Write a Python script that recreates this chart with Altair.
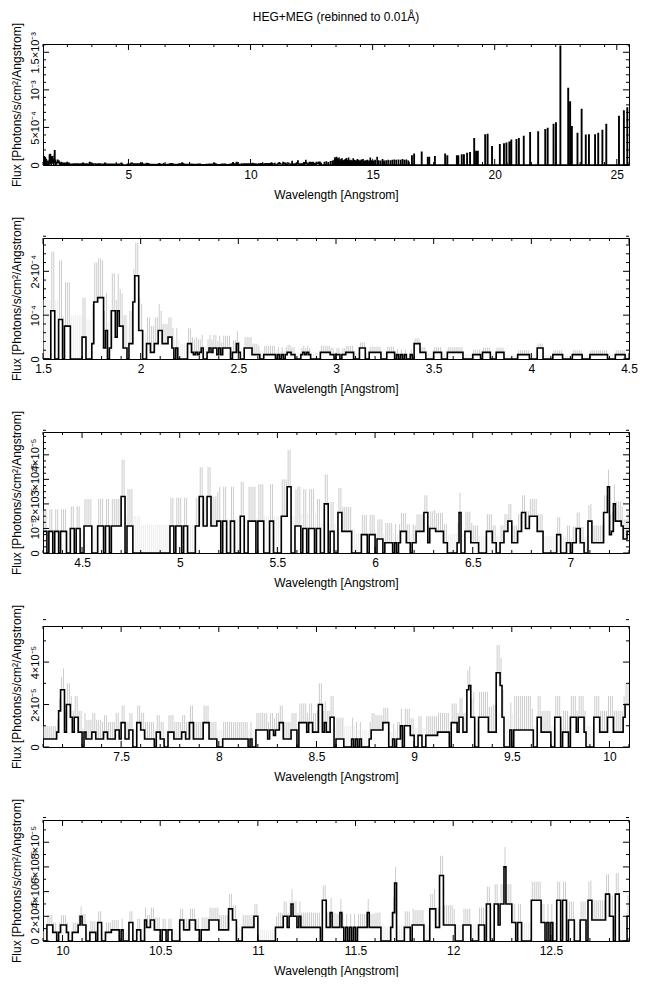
import altair as alt
import numpy as np
import pandas as pd

# ---------------------------------------------------------------- data
BIN = 0.01  # Angstrom per bin

# Panel 2: 1.5 - 4.5 A, one character per 0.01 A bin, level table in 1e-4
P2_START, P2_UNIT = 1.50, 1e-4
P2_LEVELS = [0, 0.10, 0.15, 0.25, 0.35, 0.50, 0.65, 0.75, 0.90, 1.10, 1.30, 1.40, 1.90]
P2_BINS = ("0000990088 0777000000 550004aabb b360399597 733044acc6 "
           "6004422446 6444553030 0000442121 2300232331 3133330224 "
           "2003333111 1001111110 1010122110 0012121000 0022222110 "
           "1101122220 0033300222 2220002222 0101010010 4442220000 "
           "2222000222 2222200000 1111022220 0022220000 0001111110 "
           "0003330000 0111110000 0111110000 1111111110 0001111100")
P2_ERR = [1.35, 1.0, 0.9, 0.85, 0.75, 0.6, 0.45, 0.35, 0.3, 0.28,
          0.25, 0.2, 0.17, 0.15, 0.15, 0.15, 0.13, 0.13, 0.12, 0.12,
          0.12, 0.12, 0.11, 0.11, 0.1, 0.1, 0.1, 0.1, 0.1, 0.1]

# Panel 3: 4.3 - 7.3 A, level table in 1e-5
P3_START, P3_UNIT = 4.30, 1e-5
P3_LEVELS = [0, 0.42, 0.57, 0.75, 0.88, 1.0, 1.1, 1.3, 1.5, 1.65, 2.0, 2.3, 2.7]
P3_BINS = ("4404404404 4400550550 0666600066 6066066666 bb06660000 "
           "0000000000 0000066066 6066000066 bb66bb6667 7077007700 "
           "0880077770 7770007700 00888cc006 6605505550 5500aa0440 "
           "0994444400 0003330333 0222011110 1014441101 1444499155 "
           "5444411000 0019004441 1110000444 1100114477 1114499558 "
           "8884440000 0003300011 0115511007 711111199c 34a7776224")
P3_ERR = [0.9, 0.9, 1.1, 1.1, 1.5, 1.15, 1.15, 1.15, 1.2, 1.4,
          1.4, 1.5, 1.5, 1.6, 1.2, 1.0, 0.8, 0.8, 0.75, 0.7,
          0.75, 0.8, 0.7, 0.7, 0.7, 0.7, 0.7, 0.65, 0.7, 0.8]

# Panel 4: 7.1 - 10.1 A, level table in 1e-5
P4_START, P4_UNIT = 7.10, 1e-5
P4_LEVELS = [0, 0.38, 0.55, 0.7, 0.8, 1.0, 1.15, 1.4, 1.7, 2.0, 2.7, 2.9, 3.5]
P4_BINS = ("111111138a a399737733 0311133111 1331111441 6611440066 "
           "4411111033 1100333111 1331166111 1166611110 0011111111 "
           "1111101004 4444414424 4661111444 0666636633 3993633770 "
           "1111000010 1010000144 4444666001 0115055522 0022002222 "
           "2233333306 6637733ab7 7007777733 33ccb70004 0444444444 "
           "4007733333 0077703330 7773777300 0077733337 7733333799")
P4_ERR = [0.6, 1.0, 0.9, 0.8, 0.8, 0.8, 0.8, 0.8, 0.8, 0.8,
          0.8, 0.8, 0.8, 0.9, 1.0, 1.0, 0.8, 0.7, 0.8, 0.9,
          0.9, 0.9, 1.2, 1.3, 1.6, 1.0, 1.0, 1.0, 1.0, 1.0]

# Panel 5: 9.9 - 12.9 A, level table in 1e-5
P5_START, P5_UNIT = 9.90, 1e-5
P5_LEVELS = [0, 0.7, 0.9, 1.1, 1.3, 1.5, 1.7, 2.0, 2.3, 2.6, 3.0, 3.3, 3.8, 4.7, 5.3, 6.0]
P5_BINS = ("0044411014 4410011147 4400111055 0011122220 2000550022 "
           "0063366222 0220220000 6622266622 0222266666 2222299660 "
           "0033333377 0000000003 3337737a77 3733333333 330bb33833 "
           "3383030303 0333338333 3330000038 d000033304 4444400099 "
           "933ee44444 4000044440 0004440aa0 0aa4aafaaa 5505500000 "
           "bbbbb55050 500bb0bb06 660006660b b6666666cc 770cc00007")
P5_ERR = [0.8, 0.8, 0.9, 0.8, 0.9, 1.0, 0.9, 0.9, 1.0, 1.2,
          1.0, 0.9, 1.2, 1.2, 1.2, 1.1, 1.1, 1.2, 1.3, 1.2,
          1.6, 1.3, 1.4, 1.6, 1.5, 1.5, 1.5, 1.5, 1.6, 1.7]

# Panel 1 long-wavelength part (12.9 - 25.5 A): non-zero bins, flux in 1e-4
TAIL_LAM = [13.02, 13.10, 13.18, 13.27, 13.35, 13.42, 13.45, 13.48, 13.52, 13.55,
            13.58, 13.62, 13.66, 13.70, 13.74, 13.78, 13.83, 13.88, 13.92, 13.97,
            14.01, 14.05, 14.10, 14.15, 14.20, 14.25, 14.31, 14.37, 14.42, 14.48,
            14.53, 14.60, 14.66, 14.72, 14.78, 14.85, 14.90, 14.96, 15.03, 15.10,
            15.18, 15.24, 15.32, 15.40, 15.47, 15.55, 15.63, 15.72, 15.80, 15.88,
            15.96, 16.05, 16.14, 16.22, 16.30, 16.38, 16.46,
            16.60, 16.69, 17.00, 17.25, 17.32, 17.54, 17.96, 18.05, 18.44, 18.50,
            18.64, 18.73, 18.86, 18.98, 19.15, 19.23, 19.30, 19.60, 19.70, 19.88,
            20.20, 20.37, 20.47, 20.59, 20.67, 20.88, 20.98, 21.18, 21.44, 21.77,
            22.06, 22.16, 22.40, 22.50, 22.68, 23.00, 23.08, 23.15, 23.38, 23.55,
            23.72, 23.85, 24.10, 24.23, 24.40, 24.56, 25.08, 25.28, 25.42]
TAIL_FLUX = [0.35, 0.4, 0.3, 0.45, 0.5, 0.6, 0.95, 0.7, 1.0, 0.8,
             0.6, 0.9, 0.5, 0.75, 0.8, 0.55, 0.6, 0.7, 0.85, 0.6,
             0.9, 0.55, 0.6, 0.5, 0.8, 0.6, 0.55, 0.7, 0.6, 0.5,
             0.65, 0.7, 0.5, 0.55, 0.6, 0.5, 0.9, 0.55, 0.5, 0.6,
             1.0, 0.55, 0.5, 0.7, 0.5, 0.55, 0.6, 0.55, 0.6, 0.65,
             0.6, 0.65, 0.6, 0.7, 0.6, 0.65, 0.5,
             1.2, 1.45, 1.7, 1.0, 1.0, 1.1, 1.45, 1.2, 1.2, 1.2,
             1.35, 1.35, 1.55, 1.65, 3.5, 1.8, 1.8, 4.0, 4.05, 2.45,
             2.7, 2.8, 2.9, 3.05, 3.3, 3.35, 3.5, 3.8, 4.3, 4.4,
             4.7, 4.85, 5.4, 5.6, 15.8, 10.2, 8.4, 5.1, 4.2, 7.4,
             3.95, 4.0, 4.0, 4.2, 4.6, 5.4, 6.45, 7.2, 7.6]

# axis ticks / labels
P1_XMAJ = [5, 10, 15, 20, 25]
P1_YMAJ = [0, 5e-4, 1e-3, 1.5e-3]
P1_YLAB = ["0", "5×10⁻⁴", "10⁻³", "1.5×10⁻³"]
P2_XMAJ = [1.5, 2, 2.5, 3, 3.5, 4, 4.5]
P2_YMAJ = [0, 1e-4, 2e-4]
P2_YLAB = ["0", "10⁻⁴", "2×10⁻⁴"]
P3_XMAJ = [4.5, 5, 5.5, 6, 6.5, 7]
P3_YMAJ = [0, 1e-5, 2e-5, 3e-5, 4e-5]
P3_YLAB = ["0", "10⁻⁵", "2×10⁻⁵", "3×10⁻⁵", "4×10⁻⁵"]
P4_XMAJ = [7.5, 8, 8.5, 9, 9.5, 10]
P4_YMAJ = [0, 2e-5, 4e-5]
P4_YLAB = ["0", "2×10⁻⁵", "4×10⁻⁵"]
P5_XMAJ = [10, 10.5, 11, 11.5, 12, 12.5]
P5_YMAJ = [0, 2e-5, 4e-5, 6e-5, 8e-5]
P5_YLAB = ["0", "2×10⁻⁵", "4×10⁻⁵", "6×10⁻⁵", "8×10⁻⁵"]

# ---------------------------------------------------------------- build tables
W, H = 586, 121
XTITLE = "Wavelength [Angstrom]"
YTITLE = "Flux [Photons/s/cm²/Angstrom]"


def expand(bins, x0, levels, unit, err):
    s = bins.replace(" ", "")
    assert len(s) == 300, len(s)
    lam = np.round(x0 + np.arange(len(s)) * BIN, 4)
    flux = np.array([levels[int(c, 16)] for c in s]) * unit
    ext = np.array([err[i // 10] for i in range(len(s))]) * unit
    lo = np.where(flux > 0, flux, 0.0)
    hi = np.where(flux > 0, flux + ext, ext)
    kind = np.where(flux > 0, "det", "zero")
    line = pd.DataFrame({"lam": np.append(lam, round(x0 + len(s) * BIN, 4)),
                         "flux": np.append(flux, flux[-1])})
    errdf = pd.DataFrame({"lam": lam + BIN / 2, "lo": lo, "hi": hi, "kind": kind})
    return lam, flux, line, errdf


l2, f2, line2, err2 = expand(P2_BINS, P2_START, P2_LEVELS, P2_UNIT, P2_ERR)
l3, f3, line3, err3 = expand(P3_BINS, P3_START, P3_LEVELS, P3_UNIT, P3_ERR)
l4, f4, line4, err4 = expand(P4_BINS, P4_START, P4_LEVELS, P4_UNIT, P4_ERR)
l5, f5, line5, err5 = expand(P5_BINS, P5_START, P5_LEVELS, P5_UNIT, P5_ERR)

# full-range spectrum for panel 1
N1 = 2400
grid = np.round(1.5 + np.arange(N1) * BIN, 4)
full = np.zeros(N1)


def put(lam, flux, lo, hi):
    for l, f in zip(lam, flux):
        if lo - 1e-9 <= l < hi - 1e-9:
            full[int(round((l - 1.5) / BIN))] = f


put(l2, f2, 1.5, 4.5)
put(l3, f3, 4.5, 7.3)
put(l4, f4, 7.3, 10.1)
put(l5, f5, 10.1, 12.9)
for l, f in zip(TAIL_LAM, TAIL_FLUX):
    k = int(round((l - 1.5) / BIN))
    full[k] = f * 1e-4
    if f >= 1.1 and k + 1 < N1:   # the stronger lines span two bins
        full[k + 1] = f * 1e-4
line1 = pd.DataFrame({"lam": np.append(grid, 25.5), "flux": np.append(full, full[-1])})


def minors(a, b, step, majors):
    out = []
    for v in np.arange(a, b + step / 2, step):
        v = round(float(v), 10)
        if all(abs(v - m) > step / 10 for m in majors):
            out.append(v)
    return out


def label_expr(vals, texts):
    parts = [f"abs(datum.value - {v!r}) < 1e-12 ? '{t}'" for v, t in zip(vals, texts)]
    return " : ".join(parts) + " : ''"


def panel(line_df, err_df, xdom, ydom, xmaj, xstep, ymaj, ystep, ylab, lw, title=None):
    xs = alt.Scale(domain=xdom, nice=False, zero=False)
    ys = alt.Scale(domain=ydom, nice=False, zero=False)
    xax = alt.Axis(values=xmaj, format="~g", ticks=False, domain=False, grid=False,
                   title=XTITLE, labelFontSize=12, titleFontSize=12, labelPadding=4,
                   titlePadding=9, labelFlush=False, labelOverlap=False,
                   titleFontWeight="normal", labelColor="black", titleColor="black")
    yax = alt.Axis(values=ymaj, labelExpr=label_expr(ymaj, ylab), ticks=False, domain=False,
                   grid=False, title=YTITLE, labelAngle=270, labelAlign="center",
                   labelBaseline="bottom", labelFontSize=11, titleFontSize=12,
                   labelPadding=3, titlePadding=6, labelOverlap=False, labelFlush=False,
                   titleFontWeight="normal", labelColor="black", titleColor="black")
    layers = []
    if err_df is not None:
        layers.append(alt.Chart(err_df).mark_rule(strokeWidth=0.9, clip=True).encode(
            x=alt.X("lam:Q", scale=xs, axis=xax),
            y=alt.Y("lo:Q", scale=ys, axis=yax),
            y2="hi:Q",
            color=alt.Color("kind:N", legend=None,
                            scale=alt.Scale(domain=["zero", "det"], range=["#ebebeb", "#c6c6c6"]))))
    layers.append(alt.Chart(line_df).mark_line(interpolate="step-after", color="black",
                                               strokeWidth=lw, clip=True).encode(
        x=alt.X("lam:Q", scale=xs, axis=xax),
        y=alt.Y("flux:Q", scale=ys, axis=yax)))
    xmin = minors(xdom[0], xdom[1], xstep, xmaj)
    ymin = minors(0, ydom[1], ystep, ymaj)
    for vals, L in ((xmaj, 6), (xmin, 3)):
        base = alt.Chart(pd.DataFrame({"t": vals})).mark_rule(color="black", strokeWidth=1)
        layers.append(base.encode(x=alt.X("t:Q", scale=xs, axis=xax), y=alt.value(0), y2=alt.value(L)))
        layers.append(base.encode(x=alt.X("t:Q", scale=xs, axis=xax), y=alt.value(H), y2=alt.value(H - L)))
    for vals, L in ((ymaj, 6), (ymin, 3)):
        base = alt.Chart(pd.DataFrame({"t": vals})).mark_rule(color="black", strokeWidth=1)
        layers.append(base.encode(y=alt.Y("t:Q", scale=ys, axis=yax), x=alt.value(0), x2=alt.value(L)))
        layers.append(base.encode(y=alt.Y("t:Q", scale=ys, axis=yax), x=alt.value(W), x2=alt.value(W - L)))
    ch = alt.layer(*layers).properties(width=W, height=H)
    if title:
        ch = ch.properties(title=alt.Title(title, frame="group", anchor="middle", fontSize=12,
                                           fontWeight="normal", offset=-2, color="black"))
    return ch


p1 = panel(line1, None, [1.5, 25.5], [0, 1.61e-3], P1_XMAJ, 1.0, P1_YMAJ, 1e-4, P1_YLAB, 1.4,
           title="HEG+MEG (rebinned to 0.01Å)")
p2 = panel(line2, err2, [1.5, 4.5], [0, 2.76e-4], P2_XMAJ, 0.1, P2_YMAJ, 2e-5, P2_YLAB, 1.6)
p3 = panel(line3, err3, [4.3, 7.3], [0, 4.93e-5], P3_XMAJ, 0.1, P3_YMAJ, 2.5e-6, P3_YLAB, 1.6)
p4 = panel(line4, err4, [7.1, 10.1], [0, 5.7e-5], P4_XMAJ, 0.1, P4_YMAJ, 1e-5, P4_YLAB, 1.6)
p5 = panel(line5, err5, [9.9, 12.9], [0, 9.8e-5], P5_XMAJ, 0.1, P5_YMAJ, 1e-5, P5_YLAB, 1.6)

chart = alt.vconcat(p1, p2, p3, p4, p5, spacing=73, bounds="flush").properties(
    padding={"left": 1, "top": 2, "right": 0, "bottom": 0}
).configure(font="Liberation Sans").configure_view(stroke="black", strokeWidth=1)

chart.save("out.html", embed_options={"renderer": "svg", "actions": False})
